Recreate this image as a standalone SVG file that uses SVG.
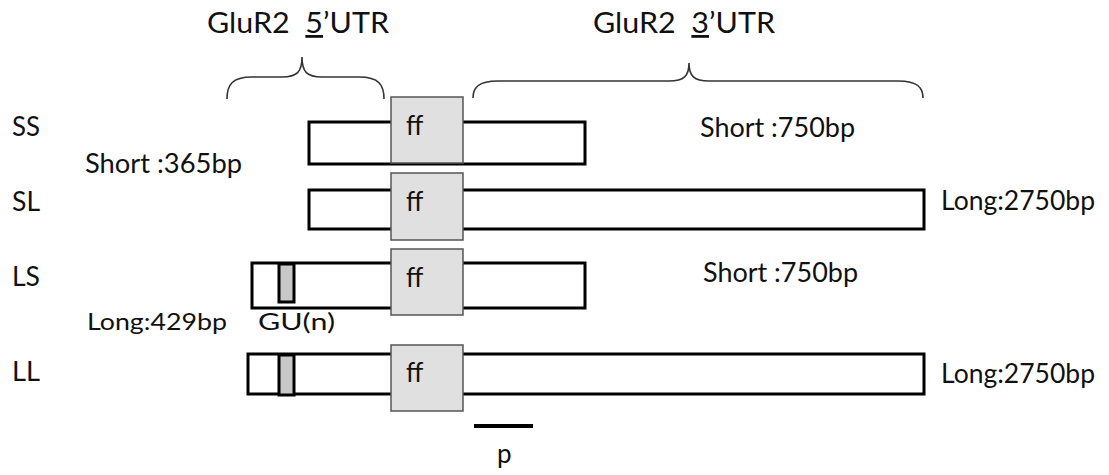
<svg xmlns="http://www.w3.org/2000/svg" width="1109" height="475" viewBox="0 0 1109 475">
  <style>
    text { font-family: Lato, "Liberation Sans", Arial, sans-serif; fill: #111; }
    .lbl { font-size: 26px; }
    .sm { font-size: 24px; }
    .title { font-size: 28px; }
    .bar { fill: #fff; stroke: #000; stroke-width: 3; }
    .ff { fill: #e0e0e0; stroke: #555; stroke-width: 1.5; }
    .gu { fill: #c8c8c8; stroke: #000; stroke-width: 3; }
    .brace { fill: none; stroke: #333; stroke-width: 1.6; }
  </style>
  <rect width="1109" height="475" fill="#fff"/>

  <!-- region titles -->
  <g id="title-5utr">
    <text class="title" x="207" y="33" textLength="182" lengthAdjust="spacingAndGlyphs" style="white-space:pre">GluR2  <tspan text-decoration="underline">5</tspan>’UTR</text>
  </g>
  <g id="title-3utr">
    <text class="title" x="593" y="33" textLength="182" lengthAdjust="spacingAndGlyphs" style="white-space:pre">GluR2  <tspan text-decoration="underline">3</tspan>’UTR</text>
  </g>

  <!-- brackets spanning the UTRs -->
  <g id="braces">
    <path class="brace" d="M227,99 C227,85 232,77 252,77 L282,77 C297,77 302,72 302,57 C302,72 307,77 322,77 L359,77 C379,77 384,85 384,99"/>
    <path class="brace" d="M473,98 C473,88 478,81 498,81 L669,81 C684,81 689,76 689,63 C689,76 694,81 709,81 L898,81 C918,81 923,88 923,98"/>
  </g>

  <!-- row names -->
  <g id="row-names">
    <text class="lbl" x="12" y="136" textLength="28" lengthAdjust="spacingAndGlyphs">SS</text>
    <text class="lbl" x="12" y="211" textLength="28" lengthAdjust="spacingAndGlyphs">SL</text>
    <text class="lbl" x="12" y="286" textLength="28" lengthAdjust="spacingAndGlyphs">LS</text>
    <text class="lbl" x="12" y="381" textLength="28" lengthAdjust="spacingAndGlyphs">LL</text>
  </g>

  <!-- length annotations -->
  <g id="lengths">
    <text class="lbl" x="85" y="173" textLength="157" lengthAdjust="spacingAndGlyphs">Short :365bp</text>
    <text class="sm" x="87" y="330" textLength="140" lengthAdjust="spacingAndGlyphs">Long:429bp</text>
    <text class="lbl" x="700" y="137" textLength="155" lengthAdjust="spacingAndGlyphs">Short :750bp</text>
    <text class="lbl" x="703" y="282" textLength="155" lengthAdjust="spacingAndGlyphs">Short :750bp</text>
    <text class="lbl" x="941" y="210" textLength="154" lengthAdjust="spacingAndGlyphs">Long:2750bp</text>
    <text class="lbl" x="941" y="383" textLength="154" lengthAdjust="spacingAndGlyphs">Long:2750bp</text>
    <text class="sm" x="258" y="330" textLength="77" lengthAdjust="spacingAndGlyphs">GU(n)</text>
  </g>

  <!-- SS construct -->
  <g id="node-SS">
    <rect class="bar" x="309" y="122" width="276" height="42"/>
    <rect class="ff" x="391" y="97" width="72" height="66"/>
    <text class="lbl" x="406" y="135">ff</text>
  </g>

  <!-- SL construct -->
  <g id="node-SL">
    <rect class="bar" x="309" y="190" width="615" height="39"/>
    <rect class="ff" x="391" y="173" width="72" height="67"/>
    <text class="lbl" x="406" y="211">ff</text>
  </g>

  <!-- LS construct -->
  <g id="node-LS">
    <rect class="bar" x="252" y="263" width="333" height="45"/>
    <rect class="gu" x="279" y="264" width="15" height="38"/>
    <rect class="ff" x="391" y="249" width="72" height="66"/>
    <text class="lbl" x="406" y="287">ff</text>
  </g>

  <!-- LL construct -->
  <g id="node-LL">
    <rect class="bar" x="248" y="354" width="676" height="40"/>
    <rect class="gu" x="279" y="355" width="15" height="40"/>
    <rect class="ff" x="391" y="345" width="72" height="66"/>
    <text class="lbl" x="406" y="382">ff</text>
  </g>

  <!-- probe marker -->
  <g id="probe">
    <line x1="474" y1="426" x2="533" y2="426" stroke="#000" stroke-width="4"/>
    <text class="lbl" x="497" y="463">p</text>
  </g>

  <g id="connectors"/>
</svg>
